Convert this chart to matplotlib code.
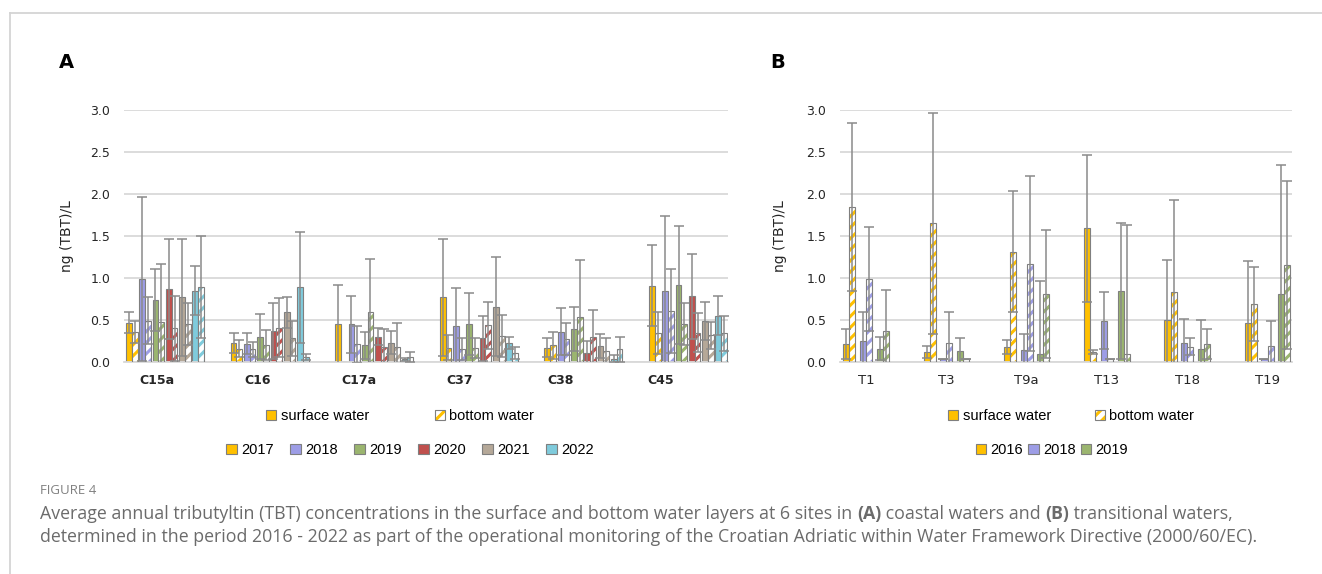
import numpy as np
import matplotlib.pyplot as plt
from matplotlib.patches import Patch
from matplotlib.legend_handler import HandlerTuple
from matplotlib.lines import Line2D
from matplotlib.text import Annotation

plt.rcParams['hatch.linewidth'] = 2.2
plt.rcParams['font.family'] = ['DejaVu Sans']

# ---- panel A: coastal waters ----
sites_a = ['C15a', 'C16', 'C17a', 'C37', 'C38', 'C45']
years_a = ['2017', '2018', '2019', '2020', '2021', '2022']
colors_a = ['#ffc000', '#9d9de6', '#9bb56f', '#c0504d', '#b5a898', '#7fcbdc']

# rows = years, columns = sites
surface_a = [
    [0.47, 0.23, 0.45, 0.77, 0.17, 0.91],
    [0.99, 0.22, 0.45, 0.43, 0.36, 0.85],
    [0.74, 0.30, 0.20, 0.45, 0.39, 0.92],
    [0.87, 0.37, 0.30, 0.28, 0.11, 0.78],
    [0.77, 0.59, 0.23, 0.66, 0.19, 0.49],
    [0.85, 0.89, 0.03, 0.23, 0.04, 0.55],
]
surface_a_sd = [
    [0.13, 0.12, 0.47, 0.70, 0.11, 0.48],
    [0.98, 0.13, 0.34, 0.45, 0.28, 0.89],
    [0.37, 0.27, 0.16, 0.37, 0.26, 0.70],
    [0.60, 0.33, 0.10, 0.27, 0.14, 0.51],
    [0.70, 0.18, 0.14, 0.59, 0.14, 0.23],
    [0.29, 0.66, 0.02, 0.07, 0.04, 0.23],
]
bottom_a = [
    [0.36, 0.16, 0.00, 0.17, 0.20, 0.35],
    [0.49, 0.15, 0.21, 0.15, 0.27, 0.61],
    [0.48, 0.20, 0.60, 0.17, 0.54, 0.45],
    [0.40, 0.41, 0.18, 0.44, 0.30, 0.35],
    [0.45, 0.28, 0.18, 0.31, 0.13, 0.32],
    [0.89, 0.06, 0.06, 0.11, 0.15, 0.34],
]
bottom_a_sd = [
    [0.13, 0.10, 0.00, 0.15, 0.16, 0.25],
    [0.28, 0.09, 0.22, 0.13, 0.19, 0.50],
    [0.69, 0.18, 0.63, 0.12, 0.68, 0.25],
    [0.39, 0.35, 0.21, 0.28, 0.32, 0.23],
    [0.25, 0.21, 0.29, 0.25, 0.15, 0.16],
    [0.61, 0.04, 0.06, 0.07, 0.15, 0.21],
]

# ---- panel B: transitional waters ----
sites_b = ['T1', 'T3', 'T9a', 'T13', 'T18', 'T19']
years_b = ['2016', '2018', '2019']
colors_b = ['#ffc000', '#9d9de6', '#9bb56f']

surface_b = [
    [0.21, 0.12, 0.18, 1.59, 0.50, 0.46],
    [0.25, 0.04, 0.14, 0.49, 0.23, 0.04],
    [0.16, 0.13, 0.10, 0.85, 0.16, 0.81],
]
surface_b_sd = [
    [0.18, 0.07, 0.08, 0.88, 0.71, 0.74],
    [0.34, 0.00, 0.19, 0.34, 0.28, 0.00],
    [0.14, 0.16, 0.86, 0.81, 0.34, 1.54],
]
bottom_b = [
    [1.84, 1.65, 1.31, 0.12, 0.83, 0.69],
    [0.99, 0.23, 1.17, 0.04, 0.18, 0.19],
    [0.37, 0.04, 0.81, 0.09, 0.21, 1.16],
]
bottom_b_sd = [
    [1.00, 1.32, 0.72, 0.02, 1.10, 0.44],
    [0.62, 0.36, 1.04, 0.00, 0.10, 0.30],
    [0.49, 0.00, 0.76, 1.54, 0.18, 1.00],
]

W, H = 1322, 574
GRID = '#d9d9d9'
EDGE = '#7f7f7f'
ERR = '#8a8a8a'
TXT = '#262626'


def px_box(x0, y0, x1, y1):
    return [x0 / W, 1 - y1 / H, (x1 - x0) / W, (y1 - y0) / H]


def draw_panel(ax, years, colors, surf, surf_sd, bott, bott_sd, pitch, width):
    n_sites = len(surf[0])
    x = np.arange(n_sites)
    n = len(years)
    for j in range(n):
        pc = x + (j - (n - 1) / 2) * pitch
        xs = pc - width / 2
        xb = pc + width / 2
        s = np.array(surf[j]); ssd = np.array(surf_sd[j])
        b = np.array(bott[j]); bsd = np.array(bott_sd[j])
        ax.bar(xs, s, width, color=colors[j], edgecolor=EDGE, linewidth=0.8, zorder=2)
        # bottom water: white bar with coloured stripes, grey outline on top
        ax.bar(xb, b, width, color='white', edgecolor=colors[j], hatch='///',
               linewidth=0, zorder=2)
        ax.bar(xb, b, width, fill=False, edgecolor=EDGE, linewidth=0.8, zorder=3)
        for xx, v, e in ((xs, s, ssd), (xb, b, bsd)):
            m = v > 0
            ax.errorbar(xx[m], v[m], yerr=e[m], fmt='none', ecolor=ERR,
                        elinewidth=1.1, capsize=3.5, capthick=1.1, zorder=4)
    ax.set_ylim(0, 3.0)
    ax.set_yticks(np.arange(0, 3.01, 0.5))
    ax.set_yticklabels([f'{v:.1f}' for v in np.arange(0, 3.01, 0.5)], fontsize=9, color=TXT)
    ax.grid(axis='y', color=GRID, linewidth=1.3, zorder=0)
    ax.set_axisbelow(True)
    for side in ('top', 'right', 'left'):
        ax.spines[side].set_visible(False)
    ax.spines['bottom'].set_color(GRID)
    ax.spines['bottom'].set_linewidth(1.3)
    ax.tick_params(axis='both', length=0)
    ax.tick_params(axis='y', pad=10)
    ax.tick_params(axis='x', pad=9)
    ax.set_ylabel('ng (TBT)/L', fontsize=10, color=TXT)


def legends(cx1, cx2, y1, y2, years, colors, gap1, gap2):
    surf_h = Patch(facecolor='#ffc000', edgecolor=EDGE, linewidth=0.8)
    bott_h = (Patch(facecolor='white', edgecolor='#ffc000', hatch='///', linewidth=0),
              Patch(fill=False, edgecolor=EDGE, linewidth=0.8))
    common = dict(loc='center', frameon=False, handlelength=0.7, handleheight=0.7,
                  handletextpad=0.3, borderpad=0, prop={'family': 'Liberation Sans', 'size': 10.5})
    fig.legend([surf_h, bott_h], ['surface water', 'bottom water'], ncol=2,
               bbox_to_anchor=(cx1 / W, 1 - y1 / H), columnspacing=gap1,
               handler_map={tuple: HandlerTuple(ndivide=1)}, **common)
    yh = [Patch(facecolor=c, edgecolor=EDGE, linewidth=0.8) for c in colors]
    fig.legend(yh, years, ncol=len(years), bbox_to_anchor=(cx2 / W, 1 - y2 / H),
               columnspacing=gap2, **common)


fig = plt.figure(figsize=(W / 100, H / 100), dpi=100)

# panel A: groups are spaced wider than the category labels
ax_a = fig.add_axes(px_box(124, 110, 728, 362))
draw_panel(ax_a, years_a, colors_a, surface_a, surface_a_sd, bottom_a, bottom_a_sd,
           pitch=0.127, width=0.055)
ax_a.set_xlim(-0.392, 5.382)
ax_a.set_xticks(-0.076 + 0.9637 * np.arange(len(sites_a)))
ax_a.set_xticklabels(sites_a, fontsize=9, fontweight='bold', color=TXT)
ax_a.yaxis.set_label_coords(-0.083, 0.5)

# panel B
ax_b = fig.add_axes(px_box(840, 110, 1292, 362))
draw_panel(ax_b, years_b, colors_b, surface_b, surface_b_sd, bottom_b, bottom_b_sd,
           pitch=0.208, width=0.075)
ax_b.set_xlim(-0.324, 5.305)
ax_b.set_xticks(np.arange(len(sites_b)))
ax_b.set_xticklabels(sites_b, fontsize=9.5, color=TXT)
ax_b.yaxis.set_label_coords(-0.117, 0.5)

legends(400, 410, 416, 450, years_a, colors_a, 4.5, 1.15)
legends(1071, 1052, 416, 450, years_b, colors_b, 3.0, 0.35)

fig.text(66 / W, 1 - 63 / H, 'A', fontsize=14, fontweight='bold', ha='center', va='center')
fig.text(778 / W, 1 - 63 / H, 'B', fontsize=14, fontweight='bold', ha='center', va='center')

# light frame: left and top edges of the figure box
fig.add_artist(Line2D([10 / W, 10 / W], [1 - 13 / H, -0.01], color='#d4d4d4', lw=1.3,
                      transform=fig.transFigure))
fig.add_artist(Line2D([10 / W, 1.01], [1 - 13 / H, 1 - 13 / H], color='#d4d4d4', lw=1.3,
                      transform=fig.transFigure))

# caption
CAP = '#6b6b6b'
cap_font = dict(family='Open Sans', size=12.8, color=CAP)
fig.text(40 / W, 1 - 490 / H, 'FIGURE 4', family='Open Sans', size=9.5, color='#808080',
         va='center')
parts = [
    ('Average annual tributyltin (TBT) concentrations in the surface and bottom water layers at 6 sites in ', 'normal'),
    ('(A)', 'bold'),
    (' coastal waters and ', 'normal'),
    ('(B)', 'bold'),
    (' transitional waters,', 'normal'),
]
prev = fig.text(40 / W, 1 - 514 / H, parts[0][0], va='center', **cap_font)
for txt, wt in parts[1:]:
    ann = Annotation(txt, xy=(1, 0), xycoords=prev, va='bottom', ha='left',
                     fontweight=wt, **cap_font)
    fig.add_artist(ann)
    prev = ann
fig.text(40 / W, 1 - 537 / H,
         'determined in the period 2016 - 2022 as part of the operational monitoring of the '
         'Croatian Adriatic within Water Framework Directive (2000/60/EC).',
         va='center', **cap_font)

fig.savefig('out.png', dpi=100)
